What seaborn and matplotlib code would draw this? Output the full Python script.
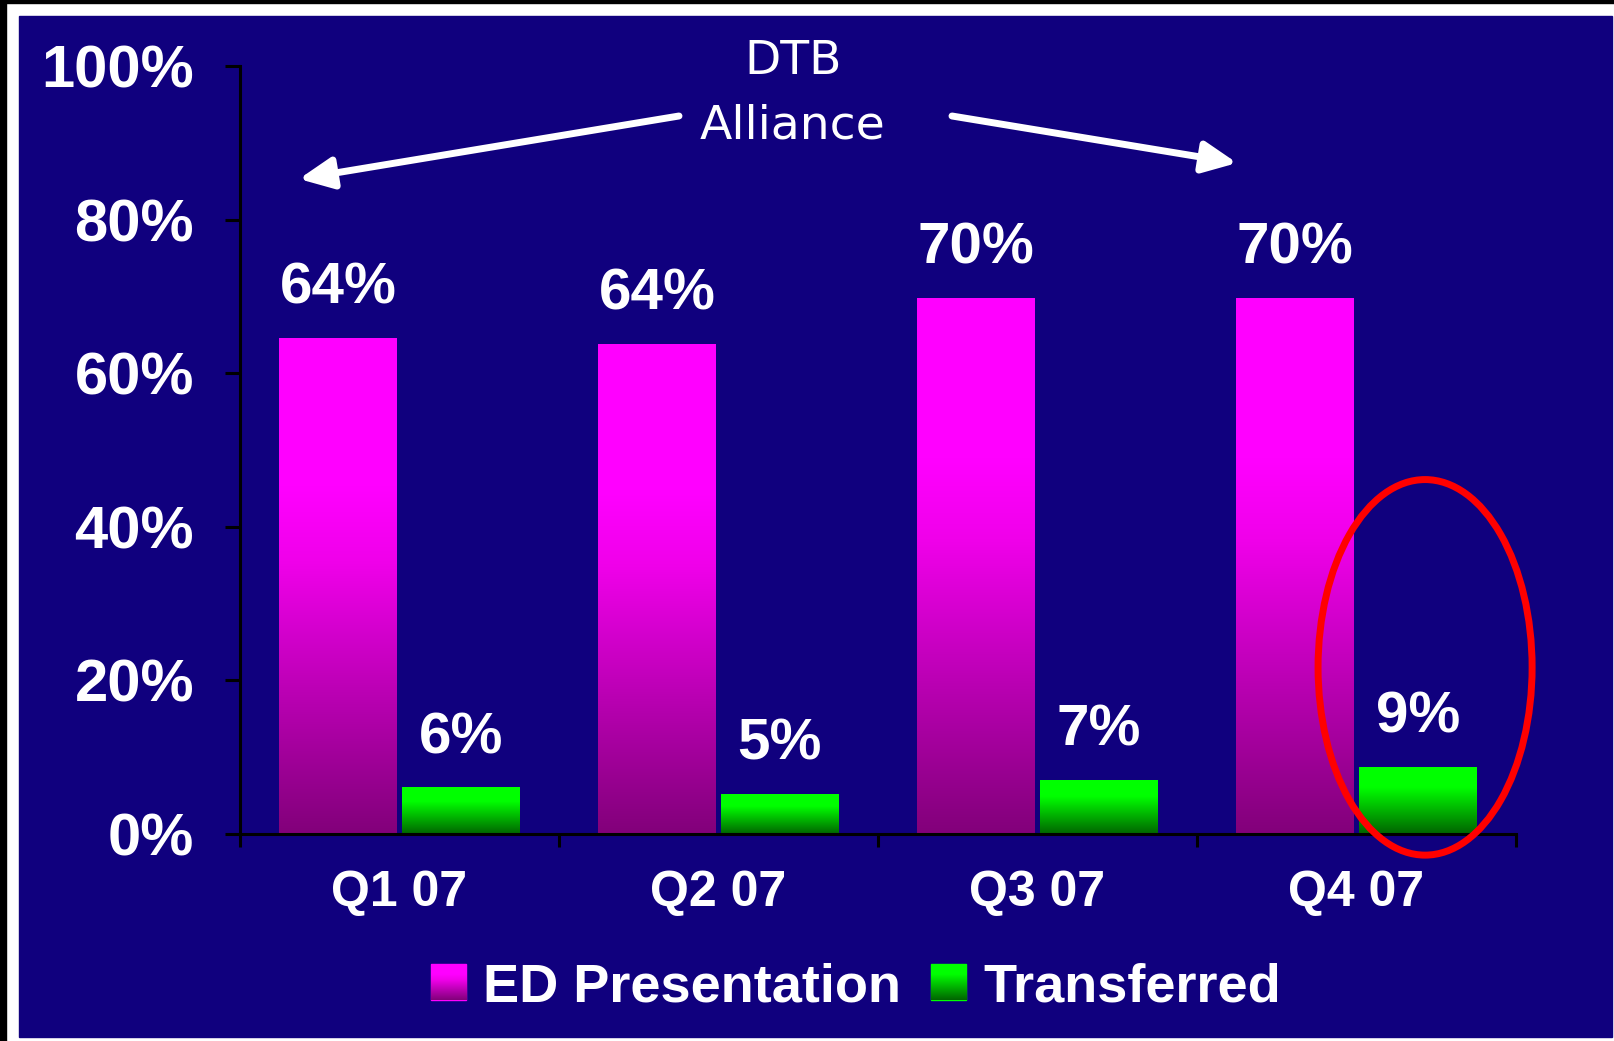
import numpy as np
import pandas as pd
import seaborn as sns
import matplotlib.pyplot as plt
from matplotlib.colors import LinearSegmentedColormap
from matplotlib.patches import Ellipse, Rectangle
from matplotlib.ticker import PercentFormatter

quarters = ['Q1 07', 'Q2 07', 'Q3 07', 'Q4 07']
series = ['ED Presentation', 'Transferred']
ed_presentation = [64.5, 63.8, 69.7, 69.7]
transferred = [6.0, 5.2, 7.0, 8.7]
ed_labels = ['64%', '64%', '70%', '70%']
tr_labels = ['6%', '5%', '7%', '9%']

df = pd.DataFrame({
    'quarter': quarters * 2,
    'series': [series[0]] * 4 + [series[1]] * 4,
    'value': ed_presentation + transferred,
})

bg = '#10007e'
W, H = 1615, 1041

sns.set_theme(style='ticks')
plt.rcParams['font.family'] = ['Liberation Sans', 'DejaVu Sans']
plt.rcParams['font.weight'] = 'bold'

# gradients: bottom -> top
ed_cmap = LinearSegmentedColormap.from_list('ed', [(0, '#82007a'), (0.55, '#f000ea'), (0.7, '#ff00ff'), (1, '#ff00ff')])
tr_cmap = LinearSegmentedColormap.from_list('tr', [(0, '#006400'), (0.7, '#00ff00'), (1, '#00ff00')])
grad = np.linspace(0, 1, 256).reshape(-1, 1)

fig = plt.figure(figsize=(W / 100, H / 100), dpi=100, facecolor='white')
# slide frame (behind the axes)
fig.patches.append(Rectangle((0, 0), 6 / W, 1, transform=fig.transFigure, color='black', zorder=-3))
fig.patches.append(Rectangle((0, 1 - 3 / H), 1, 3 / H, transform=fig.transFigure, color='black', zorder=-3))
fig.patches.append(Rectangle((19 / W, 4 / H), (1612 - 19) / W, (1037 - 16) / H,
                             transform=fig.transFigure, color=bg, zorder=-3))

ax = fig.add_axes([240 / W, 207 / H, 1276 / W, 768 / H])
ax.set_facecolor('none')
sns.barplot(data=df, x='quarter', y='value', hue='series', order=quarters, hue_order=series,
            palette=['#ff00ff', '#00ff00'], width=0.77, gap=0.04, ax=ax, legend=False,
            linewidth=0, saturation=1)

# gradient fill for the bars
for cont, cmap, labels in zip(ax.containers, [ed_cmap, tr_cmap], [ed_labels, tr_labels]):
    for bar, lab in zip(cont, labels):
        x, w, h = bar.get_x(), bar.get_width(), bar.get_height()
        ax.imshow(grad, extent=[x, x + w, 0, h], aspect='auto', cmap=cmap, origin='lower',
                  zorder=bar.get_zorder() + 0.1)
        bar.set_facecolor('none')
        ax.annotate(lab, (x + w / 2, h), xytext=(0, 25), textcoords='offset points',
                    ha='center', va='baseline', fontsize=42, color='white', weight='bold')

ax.set_xlim(-0.5, 3.5)
ax.set_ylim(0, 100)
ax.set_xlabel('')
ax.set_ylabel('')
ax.set_yticks(range(0, 101, 20))
ax.yaxis.set_major_formatter(PercentFormatter(decimals=0))
ax.set_xticks(range(4))
ax.set_xticklabels(quarters)
ax.set_xticks(np.arange(-0.5, 4, 1), minor=True)
ax.tick_params(axis='y', length=11, width=2.2, color='black', pad=22, labelsize=43, labelcolor='white')
ax.tick_params(axis='x', which='major', length=0, pad=26, labelsize=36, labelcolor='white')
ax.tick_params(axis='x', which='minor', length=9, width=2.2, color='black')
for lab in ax.get_xticklabels() + ax.get_yticklabels():
    lab.set_fontweight('bold')
sns.despine(ax=ax)
for s in ['left', 'bottom']:
    ax.spines[s].set_color('black')
    ax.spines[s].set_linewidth(2.2)

# legend
handles = [Rectangle((0, 0), 1, 1, color='#ff00ff'), Rectangle((0, 0), 1, 1, color='#00ff00')]
leg = ax.legend(handles, series, ncol=2, loc='center', bbox_to_anchor=(856 / W, 54 / H),
                bbox_transform=fig.transFigure, frameon=False, labelcolor='white',
                handlelength=0.65, handleheight=0.67, handletextpad=0.31, columnspacing=0.55,
                prop={'weight': 'bold', 'size': 39})

# DTB Alliance annotation
fig.text(793 / W, 1 - 62 / H, 'DTB', ha='center', va='center', fontsize=34, color='white',
         family='DejaVu Sans', weight='normal')
fig.text(793 / W, 1 - 126 / H, 'Alliance', ha='center', va='center', fontsize=34, color='white',
         family='DejaVu Sans', weight='normal')
arrow = dict(arrowstyle='-|>,head_length=0.6,head_width=0.28', lw=5, color='white',
             mutation_scale=34, shrinkA=0, shrinkB=0)
ax.annotate('', xy=(299, H - 179), xytext=(679, H - 116), xycoords='figure pixels',
            textcoords='figure pixels', arrowprops=arrow, annotation_clip=False)
ax.annotate('', xy=(1237, H - 163), xytext=(952, H - 116), xycoords='figure pixels',
            textcoords='figure pixels', arrowprops=arrow, annotation_clip=False)

# red highlight ellipse around Q4 transferred
ax.add_patch(Ellipse((3.215, 21.7), 0.671, 48.9, fill=False, edgecolor='#ff0000', lw=5,
                     clip_on=False, zorder=5))

# gradient swatches in the legend
fig.canvas.draw()
for p, cmap in zip(leg.get_patches(), [ed_cmap, tr_cmap]):
    bb = p.get_window_extent().transformed(fig.transFigure.inverted())
    iax = fig.add_axes([bb.x0, bb.y0, bb.width, bb.height])
    iax.imshow(grad, aspect='auto', cmap=cmap, origin='lower')
    iax.axis('off')

fig.savefig('out.png', dpi=100, facecolor=fig.get_facecolor())
